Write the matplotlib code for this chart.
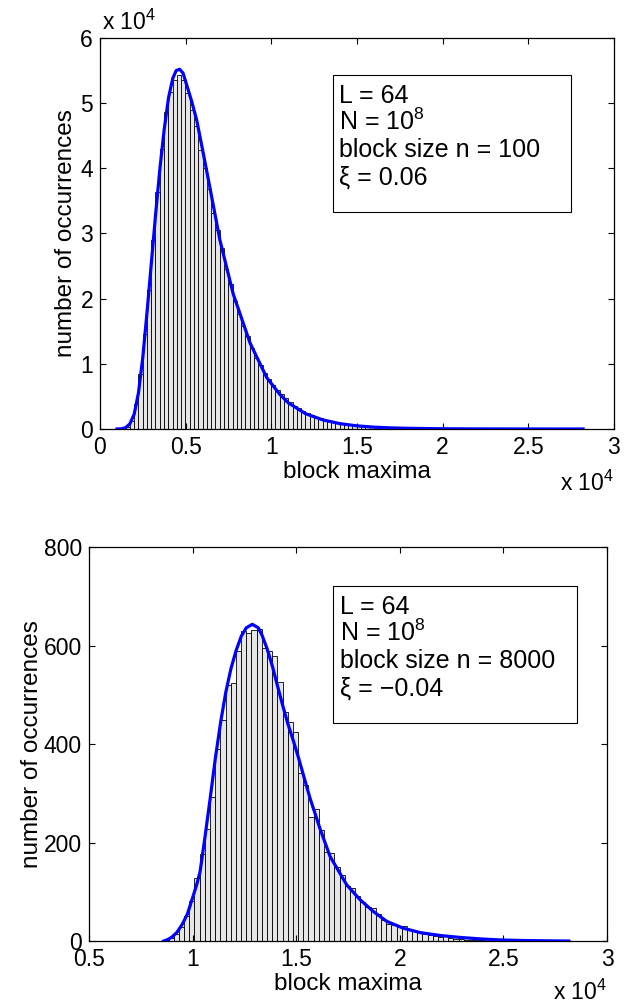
import numpy as np
import matplotlib
matplotlib.use("Agg")
import matplotlib.pyplot as plt
from matplotlib.patches import Rectangle

plt.rcParams["font.family"] = ["Liberation Sans", "DejaVu Sans"]
plt.rcParams["mathtext.fontset"] = "custom"
plt.rcParams["mathtext.rm"] = "Liberation Sans"
plt.rcParams["mathtext.default"] = "regular"


# ─── Data ──────────────────────────────────────────────────────────────────────

BIN_WIDTH = 250

# top panel: block size n = 100
top_first_edge = 990
top_counts = [
    0, 60, 300, 1200, 3800, 8400, 14500, 21400, 29000, 36400,
    42900, 48600, 51700, 53500, 54300, 53500, 51500, 49000, 46500, 42800,
    40000, 36800, 33200, 30600, 27700, 24600, 22300, 19700, 17700, 15800,
    14200, 12500, 10900, 9800, 8600, 7700, 6800, 6000, 5300, 4700,
    4100, 3600, 3200, 2800, 2450, 2150, 1900, 1650, 1450, 1250,
    1100, 950, 830, 720, 630, 550, 480, 410, 360, 310,
    270, 230, 200, 170, 150, 130, 110, 95, 80, 70,
    60, 50, 44, 38, 32, 28, 24, 20, 17, 15,
    13, 11, 9, 8, 7, 6, 5, 4, 4, 3,
    3, 2, 2, 2, 1, 1, 1, 1, 1, 1,
    0, 0, 0, 0, 0, 0, 0, 0, 1,
]
top_fit_x = [990, 1250, 1500, 1750, 2000, 2250, 2500, 2750, 3000, 3250,
             3500, 3750, 4000, 4250, 4450, 4650, 4850, 5060, 5350, 5645,
             6030, 6420, 7000, 7780, 8760, 9730, 10500, 11000, 12000, 13000,
             14000, 15000, 16000, 17000, 18000, 20000, 22000, 25000, 28200]
top_fit_y = [0, 30, 200, 800, 2300, 5600, 11000, 18000, 25500, 33000,
             40000, 46000, 50800, 53800, 55000, 55200, 54600, 52800, 50300, 47400,
             42300, 37000, 29000, 20700, 13200, 7900, 5300, 4000, 2350, 1400,
             820, 480, 280, 165, 100, 35, 12, 3, 0]
top_info = ["L = 64", "N = 10$^8$", "block size n = 100", "\u03be = 0.06"]
top_xticks = [0, 5000, 10000, 15000, 20000, 25000, 30000]
top_xlabels = ["0", "0.5", "1", "1.5", "2", "2.5", "3"]
top_yticks = [0, 10000, 20000, 30000, 40000, 50000, 60000]
top_ylabels = ["0", "1", "2", "3", "4", "5", "6"]

# bottom panel: block size n = 8000
bot_first_edge = 8590
bot_counts = [
    2, 6, 14, 28, 51, 82, 128, 177, 227, 292,
    390, 449, 519, 524, 588, 630, 625, 632, 634, 595,
    588, 579, 525, 464, 444, 424, 342, 317, 252, 268,
    226, 180, 178, 151, 135, 111, 108, 91, 80, 70,
    67, 55, 43, 35, 33, 30, 30, 25, 21, 18,
    15, 13, 11, 9, 12, 6, 5, 4, 3, 3,
    2, 2, 1, 1, 1, 2, 0, 0, 0, 0,
    0, 0, 0, 0, 0, 0, 0, 1,
]
bot_fit_x = [8600, 8800, 9000, 9250, 9500, 9750, 10000, 10200, 10357, 10600,
             10855, 11100, 11355, 11600, 11850, 12100, 12350, 12590, 12880, 13170,
             13350, 13590, 13850, 14090, 14350, 14590, 14850, 15090, 15666, 16149,
             16631, 17437, 18079, 18721, 19368, 20169, 21000, 22000, 23000, 24000,
             25000, 26000, 28160]
bot_fit_y = [0, 3, 8, 18, 34, 55, 88, 115, 140, 212,
             292, 372, 445, 505, 553, 590, 619, 636, 643, 636,
             621, 594, 558, 519, 478, 442, 408, 375, 290, 228,
             172, 114, 84, 60, 40, 26, 17, 11, 7, 4,
             2, 1, 0]
bot_info = ["L = 64", "N = 10$^8$", "block size n = 8000", "\u03be = \u22120.04"]
bot_xticks = [5000, 10000, 15000, 20000, 25000, 30000]
bot_xlabels = ["0.5", "1", "1.5", "2", "2.5", "3"]
bot_yticks = [0, 200, 400, 600, 800]
bot_ylabels = ["0", "200", "400", "600", "800"]


# ─── Helpers ───────────────────────────────────────────────────────────────────

TICK_FS = 16.5
LABEL_FS = 17.5
INFO_FS = 18


def _draw_hist(ax, first_edge, counts, fit_x, fit_y):
    lefts = first_edge + BIN_WIDTH * np.arange(len(counts))
    ax.bar(lefts, counts, width=BIN_WIDTH, align="edge",
           facecolor="#e6e6e6", edgecolor="black", linewidth=0.6)
    ax.plot(fit_x, fit_y, color="#0000ff", linewidth=2.3,
            solid_joinstyle="round", zorder=3)


def _style_ax(ax, xlim, ylim, xticks, xlabels, yticks, ylabels, ylab_x, mult_y):
    ax.set_xlim(*xlim)
    ax.set_ylim(*ylim)
    ax.set_xticks(xticks)
    ax.set_xticklabels(xlabels)
    ax.set_yticks(yticks)
    ax.set_yticklabels(ylabels)
    ax.tick_params(direction="in", length=4, width=0.8, top=True, right=True,
                   labelsize=TICK_FS, pad=5, colors="black")
    for sp in ax.spines.values():
        sp.set_linewidth(0.9)
    ax.set_xlabel("block maxima", fontsize=LABEL_FS)
    ax.xaxis.set_label_coords(0.5, -0.11)
    ax.xaxis.label.set_va("center")
    ax.set_ylabel("number of occurrences", fontsize=LABEL_FS)
    ax.yaxis.set_label_coords(ylab_x, 0.5)
    ax.yaxis.label.set_va("center")
    ax.text(1.0, mult_y, "x 10$^4$", transform=ax.transAxes,
            ha="right", va="center", fontsize=TICK_FS)


def _info_box(ax, lines, x0, x1, y0, y1, baselines):
    ax.add_patch(Rectangle((x0, y0), x1 - x0, y1 - y0, transform=ax.transAxes,
                           facecolor="white", edgecolor="black",
                           linewidth=0.8, zorder=4))
    for txt, yb in zip(lines, baselines):
        ax.text(x0 + 0.013, yb, txt, transform=ax.transAxes, ha="left",
                va="baseline", fontsize=INFO_FS, zorder=5)


# ─── Figure ────────────────────────────────────────────────────────────────────

fig = plt.figure(figsize=(6.26, 10.07), dpi=100)
fig.patch.set_facecolor("white")

ax1 = fig.add_axes([0.1597, 0.574, 0.821, 0.3883])
_draw_hist(ax1, top_first_edge, top_counts, top_fit_x, top_fit_y)
_style_ax(ax1, (0, 30000), (0, 60000), top_xticks, top_xlabels,
          top_yticks, top_ylabels, -0.066, -0.138)
ax1.text(0.004, 1.008, "x 10$^4$", transform=ax1.transAxes,
         ha="left", va="bottom", fontsize=TICK_FS)
_info_box(ax1, top_info, 0.453, 0.916, 0.555, 0.905,
          [0.833, 0.765, 0.696, 0.624])

ax2 = fig.add_axes([0.1422, 0.0655, 0.8275, 0.3913])
_draw_hist(ax2, bot_first_edge, bot_counts, bot_fit_x, bot_fit_y)
_style_ax(ax2, (5000, 30000), (0, 800), bot_xticks, bot_xlabels,
          bot_yticks, bot_ylabels, -0.11, -0.13)
_info_box(ax2, bot_info, 0.471, 0.942, 0.553, 0.901,
          [0.830, 0.761, 0.693, 0.622])

fig.savefig("out.png", dpi=100, facecolor=fig.get_facecolor())
